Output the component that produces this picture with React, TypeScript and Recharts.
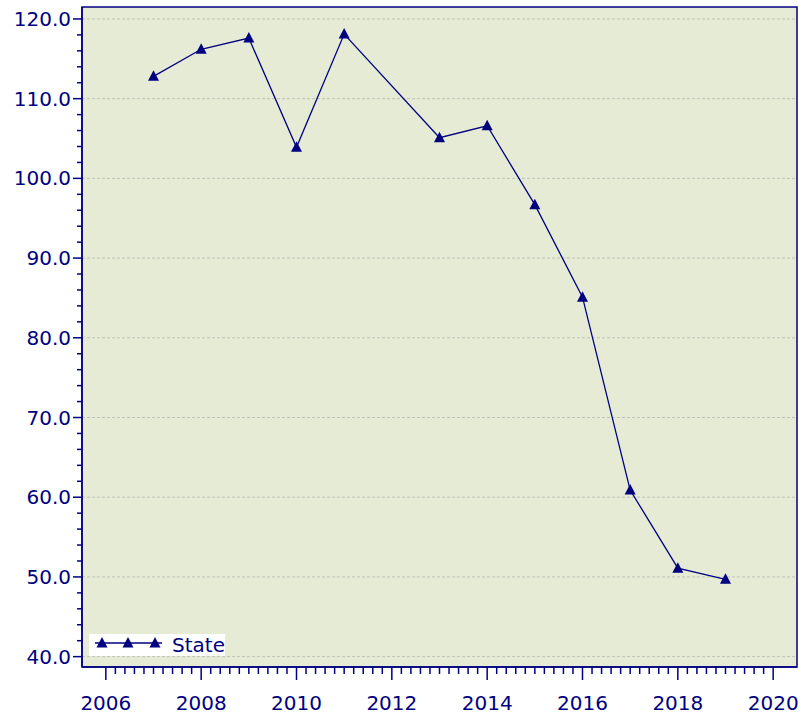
import { LineChart, Line, XAxis, YAxis, CartesianGrid, Legend, ReferenceArea } from 'recharts';

const years = [2007, 2008, 2009, 2010, 2011, 2013, 2014, 2015, 2016, 2017, 2018, 2019];
const stateValues = [112.8, 116.2, 117.6, 103.9, 118.1, 105.1, 106.6, 96.7, 85.1, 60.9, 51.1, 49.7];
const yearLabels = [2006, 2008, 2010, 2012, 2014, 2016, 2018, 2020];
const valueLabels = [40, 50, 60, 70, 80, 90, 100, 110, 120];

const X_DOMAIN = [2005.5, 2020.5];
const Y_DOMAIN = [38.7, 121.5];
const NAVY = '#000080';
const FONT = '"DejaVu Sans", Verdana, sans-serif';

const data = years.map((year, i) => ({ year, value: stateValues[i] }));

// minor ticks: every 0.2 yr on x, every 2 units on y
const xTicks: number[] = [];
for (let i = 0; i <= 70; i++) xTicks.push(Math.round((2006 + i * 0.2) * 10) / 10);
const yTicks: number[] = [];
for (let v = 40; v <= 120; v += 2) yTicks.push(v);

const XTick = ({ x, y, payload }: any) => {
  const v = payload.value;
  const major = yearLabels.some((l) => Math.abs(l - v) < 1e-6);
  return (
    <g>
      <line x1={x} x2={x} y1={y} y2={y + (major ? 13 : 7)} stroke={NAVY} strokeWidth={1.5} />
      {major && (
        <text x={x} y={y + 36} textAnchor="middle" dominantBaseline="central" fill={NAVY} fontSize={20} fontFamily={FONT}>
          {Math.round(v)}
        </text>
      )}
    </g>
  );
};

const YTick = ({ x, y, payload }: any) => {
  const v = payload.value;
  const major = valueLabels.includes(v);
  return (
    <g>
      <line x1={x - (major ? 9 : 5)} x2={x} y1={y} y2={y} stroke={NAVY} strokeWidth={1.5} />
      {major && (
        <text x={x - 11} y={y} textAnchor="end" dominantBaseline="central" fill={NAVY} fontSize={20} fontFamily={FONT}>
          {v.toFixed(1)}
        </text>
      )}
    </g>
  );
};

const Triangle = ({ cx, cy }: any) => {
  if (cx == null || cy == null) return null;
  return <path d={`M${cx},${cy - 6} L${cx + 5.5},${cy + 4.5} L${cx - 5.5},${cy + 4.5} Z`} fill={NAVY} />;
};

const StateLegend = () => (
  <div style={{ background: '#ffffff', width: 136, height: 22, display: 'flex', alignItems: 'center' }}>
    <svg width={84} height={22}>
      <line x1={6} x2={73} y1={9} y2={9} stroke={NAVY} strokeWidth={1.3} />
      <Triangle cx={13} cy={9} />
      <Triangle cx={39} cy={9} />
      <Triangle cx={66} cy={9} />
    </svg>
    <span style={{ color: NAVY, fontFamily: FONT, fontSize: 20, lineHeight: '22px', marginLeft: 2 }}>State</span>
  </div>
);

export default function App() {
  return (
    <div style={{ position: 'absolute', left: 0, top: 0 }}>
      <LineChart width={801} height={715} data={data} margin={{ top: 7, right: 4, left: 0, bottom: 0 }}>
        <CartesianGrid
          vertical={false}
          horizontalValues={valueLabels}
          stroke="#bfc2b8"
          strokeDasharray="3 2"
          fill="#e6ebd5"
        />
        <XAxis
          dataKey="year"
          type="number"
          domain={X_DOMAIN}
          allowDataOverflow
          ticks={xTicks}
          interval={0}
          tick={XTick}
          tickLine={false}
          tickSize={0}
          tickMargin={0}
          axisLine={{ stroke: NAVY, strokeWidth: 1.5 }}
          height={48}
        />
        <YAxis
          type="number"
          domain={Y_DOMAIN}
          allowDataOverflow
          ticks={yTicks}
          interval={0}
          tick={YTick}
          tickLine={false}
          tickSize={0}
          tickMargin={0}
          axisLine={{ stroke: NAVY, strokeWidth: 1.5 }}
          width={82}
        />
        <ReferenceArea
          x1={X_DOMAIN[0]}
          x2={X_DOMAIN[1]}
          y1={Y_DOMAIN[0]}
          y2={Y_DOMAIN[1]}
          fill="none"
          stroke={NAVY}
          strokeWidth={1.5}
          ifOverflow="visible"
        />
        <Legend
          layout="horizontal"
          verticalAlign="middle"
          align="center"
          content={StateLegend}
          wrapperStyle={{ left: 89, top: 634, width: 'auto' }}
        />
        <Line
          dataKey="value"
          name="State"
          stroke={NAVY}
          strokeWidth={1.3}
          dot={Triangle}
          activeDot={false}
          isAnimationActive={false}
        />
      </LineChart>
    </div>
  );
}
